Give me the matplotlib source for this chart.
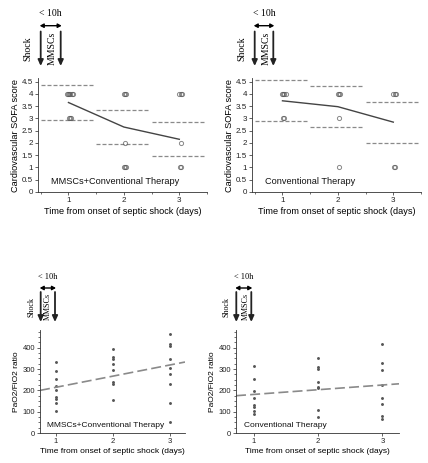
import numpy as np
import matplotlib
matplotlib.use("Agg")
import matplotlib.pyplot as plt
from matplotlib.ticker import MultipleLocator

plt.rcParams["font.family"] = ["Liberation Sans", "DejaVu Sans"]

W, H = 428, 463

days = [1, 2, 3]
xlabel = "Time from onset of septic shock (days)"

# cardiovascular SOFA: mean and SD per day, plus individual scores
tl_mean = [3.65, 2.65, 2.15]
tl_sd = [0.70, 0.70, 0.70]
tl_scores = [[4, 4, 4, 4, 4, 4, 3, 3, 3],
             [4, 4, 4, 2, 1, 1, 1],
             [4, 4, 4, 2, 1, 1]]

tr_mean = [3.72, 3.48, 2.85]
tr_sd = [0.83, 0.83, 0.84]
tr_scores = [[4, 4, 4, 4, 3, 3],
             [4, 4, 4, 3, 1],
             [4, 4, 4, 1, 1]]

# PaO2/FiO2 values per day and the fitted trend (intercept, slope)
bl_ratio = [[335, 290, 255, 220, 200, 170, 160, 140, 105],
            [395, 355, 345, 325, 295, 240, 232, 155],
            [465, 418, 410, 347, 304, 275, 230, 140, 52]]
bl_fit = (162, 52.4)

br_ratio = [[315, 255, 197, 163, 132, 122, 102, 88],
            [351, 310, 301, 240, 217, 209, 106, 76],
            [419, 327, 296, 223, 166, 137, 79, 64]]
br_fit = (159, 22.0)

sofa_ticks = [0, 0.5, 1, 1.5, 2, 2.5, 3, 3.5, 4, 4.5]
sofa_labels = ["0", "0.5", "1", "1.5", "2", "2.5", "3", "3.5", "4", "4.5"]
ratio_ticks = [0, 100, 200, 300, 400]


def px_axes(fig, x0, y0, x1, y1):
    return fig.add_axes([x0 / W, 1 - y1 / H, (x1 - x0) / W, (y1 - y0) / H])


def fp(x, y):
    return (x / W, 1 - y / H)


def style(ax):
    for s in ["top", "right"]:
        ax.spines[s].set_visible(False)
    for s in ["left", "bottom"]:
        ax.spines[s].set_linewidth(0.6)
        ax.spines[s].set_color("#333333")
    ax.tick_params(length=2, width=0.5, pad=1.5, colors="#222222")
    ax.tick_params(which="minor", length=1.2, width=0.4)


def sofa_panel(ax, mean, sd, scores, label):
    style(ax)
    for d, m, s in zip(days, mean, sd):
        for v in (m + s, m - s):
            ax.plot([d - 0.5, d + 0.48], [v, v], color="#8a8a8a", lw=0.9,
                    dashes=(3.2, 1.6))
    ax.plot(days, mean, color="#444444", lw=1.0)
    for d, vals in zip(days, scores):
        vals = np.array(vals, dtype=float)
        xs = np.zeros_like(vals)
        for v in np.unique(vals):
            idx = np.where(vals == v)[0]
            n = len(idx)
            xs[idx] = d + 0.025 + 0.022 * (np.arange(n) - (n - 1) / 2)
        ax.plot(xs, vals, "o", ms=3.0, mfc="none", mec="#555555", mew=0.7,
                alpha=0.7, ls="none")
    ax.set_xlim(0.45, 3.5)
    ax.set_ylim(0, 4.65)
    ax.set_xticks(days)
    ax.xaxis.set_minor_locator(MultipleLocator(0.5))
    ax.set_yticks(sofa_ticks)
    ax.set_yticklabels(sofa_labels)
    ax.tick_params(labelsize=5.8)
    ax.set_ylabel("Cardiovascular SOFA score", fontsize=6.6, labelpad=1.5)
    ax.set_xlabel(xlabel, fontsize=6.6, labelpad=2)
    ax.text(0.075, 0.095, label, transform=ax.transAxes, fontsize=6.6,
            va="center", ha="left", color="#111111")


def ratio_panel(ax, ratio, fit, label, ylab):
    style(ax)
    for d, vals in zip(days, ratio):
        ax.plot([d] * len(vals), vals, "o", ms=2.1, color="#555555",
                mec="none", ls="none")
    xl = (0.72, 3.26)
    xx = np.array(xl)
    ax.plot(xx, fit[0] + fit[1] * xx, color="#8a8a8a", lw=1.2,
            dashes=(6, 2.5))
    ax.set_xlim(*xl)
    ax.set_ylim(0, 483)
    ax.set_xticks(days)
    ax.set_yticks(ratio_ticks)
    ax.yaxis.set_minor_locator(MultipleLocator(25))
    ax.tick_params(labelsize=5.5)
    if ylab:
        ax.set_ylabel("PaO2/FiO2 ratio", fontsize=6.0, labelpad=2)
    ax.set_xlabel(xlabel, fontsize=6.0, labelpad=2)
    ax.text(0.05, 0.075, label, transform=ax.transAxes, fontsize=6.0,
            va="center", ha="left", color="#111111")


def timeline(fig, xa, xb, y_txt, y_dbl, y0, y1, x_shock, x_msc, tsize, lsize):
    serif = ["Liberation Serif", "DejaVu Serif"]
    fig.text(*fp((xa + xb) / 2, y_txt), "< 10h", family=serif, fontsize=tsize,
             ha="center", va="center")
    fig.add_artist(matplotlib.patches.FancyArrowPatch(
        fp(xa - 1, y_dbl), fp(xb + 1, y_dbl), transform=fig.transFigure,
        arrowstyle="<|-|>,head_length=2.2,head_width=1.2", lw=1.0,
        color="black", shrinkA=0, shrinkB=0))
    for x in (xa, xb):
        fig.add_artist(matplotlib.patches.FancyArrowPatch(
            fp(x, y0), fp(x, y1), transform=fig.transFigure,
            arrowstyle="-|>,head_length=3.5,head_width=1.6", lw=1.3,
            color="#222222", shrinkA=0, shrinkB=0))
    ym = (y0 + y1) / 2
    fig.text(*fp(x_shock, ym), "Shock", family=serif, fontsize=lsize,
             rotation=90, ha="center", va="center")
    fig.text(*fp(x_msc, ym), "MMSCs", family=serif, fontsize=lsize,
             rotation=90, ha="center", va="center")


fig = plt.figure(figsize=(W / 100, H / 100), dpi=100)

ax1 = px_axes(fig, 38, 78, 207, 192)
sofa_panel(ax1, tl_mean, tl_sd, tl_scores, "MMSCs+Conventional Therapy")
ax2 = px_axes(fig, 252, 78, 421, 192)
sofa_panel(ax2, tr_mean, tr_sd, tr_scores, "Conventional Therapy")
ax3 = px_axes(fig, 40, 330, 185, 433)
ratio_panel(ax3, bl_ratio, bl_fit, "MMSCs+Conventional Therapy", True)
ax4 = px_axes(fig, 236, 330, 399, 433)
ratio_panel(ax4, br_ratio, br_fit, "Conventional Therapy", True)

timeline(fig, 40.7, 60.7, 13, 25.7, 31.5, 66, 28, 51.7, 7, 7)
timeline(fig, 254.7, 273.3, 13, 25.7, 31.5, 66, 242, 265.7, 7, 7)
timeline(fig, 40.7, 55, 277, 288, 292, 322, 31.7, 47.5, 6.0, 5.8)
timeline(fig, 236.3, 251.3, 277, 288, 292, 322, 226.7, 245.7, 6.0, 5.8)

fig.savefig("out.png", dpi=100)
